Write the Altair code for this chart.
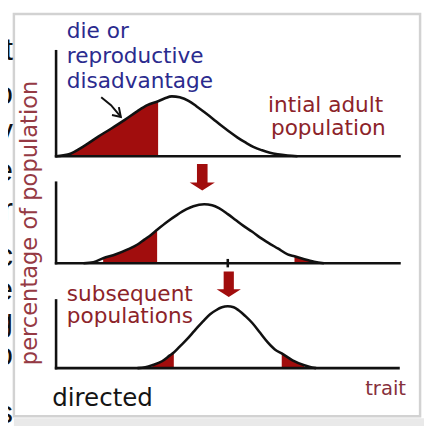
import altair as alt
import pandas as pd

# ---- data (trait units along x, percentage units up each panel) ----
trait1 = [0, 13, 28, 43, 56, 70, 83, 93, 104, 111, 118, 126, 135, 143, 151, 160, 168, 176, 185, 193, 201, 210, 218, 226, 236, 246]
pct1 = [0, 2, 10, 20, 28, 37, 46, 52, 56, 59, 61, 60, 56.5, 51, 45, 38, 31.5, 25.5, 19, 14, 9.5, 6, 3.5, 2, 0.8, 0]

trait2 = [28, 38, 48, 61, 73, 83, 90, 97, 103, 113, 123, 133, 140, 151, 159, 166, 175, 183, 191, 200, 208, 216, 226, 236, 243, 253, 263, 273]
pct2 = [0, 1, 5, 9, 14, 19, 24, 29, 34, 42, 49, 55, 58, 60, 59, 56, 50, 44, 38, 32, 26, 21, 15, 9, 7, 4, 1.5, 0]

trait3 = [83, 91, 98, 108, 116, 120, 126, 133, 141, 150, 157, 163, 169, 175, 181, 186, 193, 200, 208, 216, 223, 230, 241, 253, 258, 265]
pct3 = [0, 1, 3, 7, 13, 16, 22, 29, 38, 48, 55, 59, 62, 63, 62, 59, 53, 46, 36, 26, 19, 15, 8, 3, 1.5, 0]

shaded1 = [(13, 104)]
shaded2 = [(48, 103), (243, 263)]
shaded3 = [(98, 120), (230, 253)]

# ---- layout (positions in the chart's coordinate space) ----
base = {1: 275, 2: 166, 3: 59}
axis_top = {1: 382, 2: 248, 3: 128}
axis_end = {1: 350, 2: 350, 3: 349}

RED = "#a10d0d"
BLUE = "#2b2b8e"
MAROON = "#8c2329"

curves = {1: (trait1, pct1), 2: (trait2, pct2), 3: (trait3, pct3)}
shades = {1: shaded1, 2: shaded2, 3: shaded3}

curve_rows, shade_rows, axis_rows = [], [], []
for k, (ts, ps) in curves.items():
    for t, p in zip(ts, ps):
        curve_rows.append({"panel": k, "x": t, "y": base[k] + p})
    for i, (lo, hi) in enumerate(shades[k]):
        for t, p in zip(ts, ps):
            if lo <= t <= hi:
                shade_rows.append({"region": f"{k}-{i}", "x": t, "y": base[k] + p, "y0": base[k]})
    axis_rows.append({"x": 0, "x2": 0, "y": base[k], "y2": axis_top[k]})
    axis_rows.append({"x": 0, "x2": axis_end[k], "y": base[k], "y2": base[k]})
axis_rows.append({"x": 175, "x2": 175, "y": base[2] - 3, "y2": base[2] + 3})

curve_df = pd.DataFrame(curve_rows)
shade_df = pd.DataFrame(shade_rows)
axis_df = pd.DataFrame(axis_rows)

xs = alt.Scale(domain=[-49, 375], nice=False, zero=False)
ys = alt.Scale(domain=[0, 422], nice=False, zero=False)
X = lambda f="x": alt.X(f"{f}:Q", scale=xs, axis=None)
Y = lambda f="y": alt.Y(f"{f}:Q", scale=ys, axis=None)

frame = alt.Chart(pd.DataFrame([{"x": -43, "x2": 371, "y": 420, "y2": 10}])).mark_rect(
    fillOpacity=0, stroke="#d2d2d2", strokeWidth=2.5
).encode(x=X(), x2="x2:Q", y=Y(), y2="y2:Q")

shadow = alt.Chart(pd.DataFrame([{"x": -43, "x2": 375, "y": 8, "y2": 0}])).mark_rect(
    color="#e9e9e9"
).encode(x=X(), x2="x2:Q", y=Y(), y2="y2:Q")

areas = alt.Chart(shade_df).mark_area(color=RED, interpolate="monotone").encode(
    x=X(), y=Y(), y2="y0:Q", detail="region:N"
)

axes = alt.Chart(axis_df).mark_rule(color="#111111", strokeWidth=2.6, strokeCap="square").encode(
    x=X(), x2="x2:Q", y=Y(), y2="y2:Q"
)

lines = alt.Chart(curve_df).mark_line(color="#111111", strokeWidth=2.6, interpolate="monotone").encode(
    x=X(), y=Y(), detail="panel:N"
)

arrow_path = "M-0.4,-1 L0.4,-1 L0.4,0.4 L0.95,0.4 L0,1 L-0.95,0.4 L-0.4,0.4 Z"
arrow_df = pd.DataFrame([
    {"x": 149, "y": 253.5, "s": 729},
    {"x": 176, "y": 144.5, "s": 676},
])
arrows = alt.Chart(arrow_df).mark_point(shape=arrow_path, filled=True, color=RED, opacity=1, strokeWidth=0).encode(
    x=X(), y=Y(), size=alt.Size("s:Q", scale=None, legend=None)
)

pointer_df = pd.DataFrame([
    {"id": "a", "o": 0, "x": 46, "y": 335},
    {"id": "a", "o": 1, "x": 56, "y": 327},
    {"id": "a", "o": 2, "x": 66, "y": 315},
    {"id": "b", "o": 0, "x": 64, "y": 325},
    {"id": "b", "o": 1, "x": 66, "y": 315},
    {"id": "b", "o": 2, "x": 57, "y": 317},
])
pointer = alt.Chart(pointer_df).mark_line(color="#111111", strokeWidth=2).encode(
    x=X(), y=Y(), detail="id:N", order="o:Q"
)

labels_df = pd.DataFrame([
    {"text": "die or", "x": 11, "y": 395, "c": BLUE, "s": 22},
    {"text": "reproductive", "x": 11, "y": 370, "c": BLUE, "s": 22},
    {"text": "disadvantage", "x": 11, "y": 345, "c": BLUE, "s": 22},
    {"text": "intial adult", "x": 216, "y": 320, "c": MAROON, "s": 22},
    {"text": "population", "x": 219, "y": 297, "c": MAROON, "s": 22},
    {"text": "subsequent", "x": 11, "y": 127, "c": MAROON, "s": 22},
    {"text": "populations", "x": 11, "y": 105, "c": MAROON, "s": 22},
    {"text": "trait", "x": 315, "y": 32, "c": "#86303c", "s": 20},
    {"text": "directed", "x": -4, "y": 20, "c": "#141414", "s": 25},
])
labels = alt.Chart(labels_df).mark_text(align="left", baseline="alphabetic", font="DejaVu Sans").encode(
    x=X(), y=Y(), text="text:N",
    color=alt.Color("c:N", scale=None, legend=None),
    size=alt.Size("s:Q", scale=None, legend=None),
)

ylabel = alt.Chart(pd.DataFrame([{"text": "percentage of population", "x": -19, "y": 207}])).mark_text(
    angle=270, align="center", baseline="alphabetic", font="DejaVu Sans", fontSize=23, color="#953a44"
).encode(x=X(), y=Y(), text="text:N")

side_letters = ["t", "o", "y", "e", "r", "c", "e", "g", "o", "s"]
side_y = [373, 328, 290, 250, 210, 163, 128, 97, 62, 3]
side_df = pd.DataFrame({"text": side_letters, "y": side_y, "x": [-44] * len(side_letters)})
side = alt.Chart(side_df).mark_text(align="right", baseline="alphabetic", font="Liberation Sans", fontSize=32, color="#111111").encode(
    x=X(), y=Y(), text="text:N"
)

chart = alt.layer(shadow, frame, areas, axes, lines, arrows, pointer, labels, ylabel, side).properties(
    width=424, height=422, autosize=alt.AutoSizeParams(type="none"), padding=0
).configure_view(strokeWidth=0)

chart.save("out.html", embed_options={"renderer": "svg", "actions": False})
